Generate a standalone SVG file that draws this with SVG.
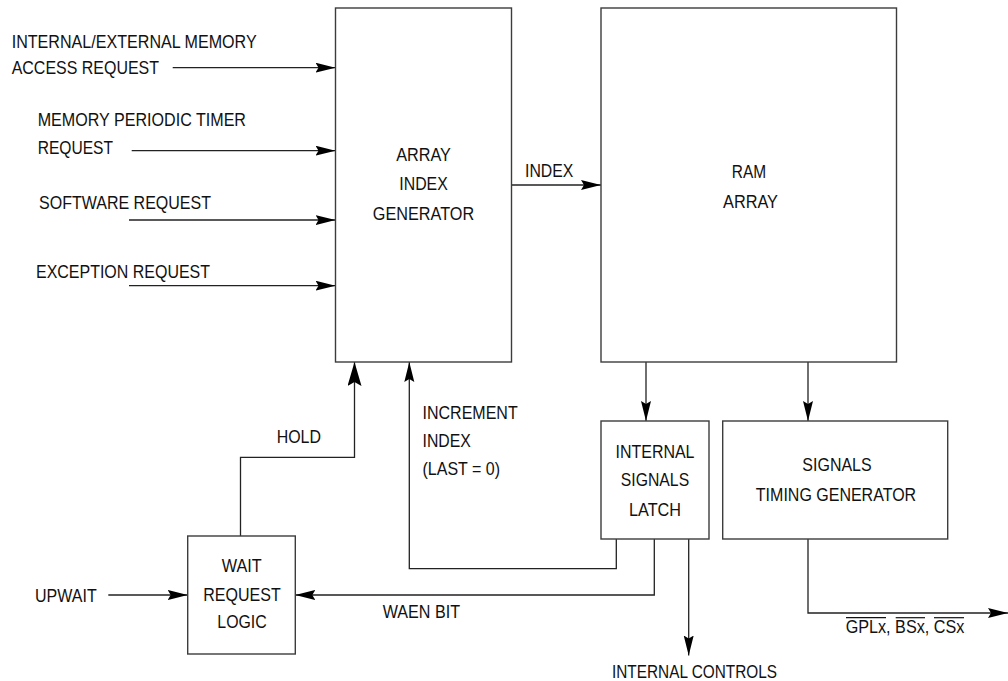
<svg xmlns="http://www.w3.org/2000/svg" width="1008" height="681" viewBox="0 0 1008 681">
<style>
  .box { fill: #ffffff; stroke: #3c3c3c; stroke-width: 1.4; }
  .wire { fill: none; stroke: #222222; stroke-width: 1.3; }
  .arr { marker-end: url(#ah); }
  .arrL { marker-end: url(#ahL); }
  text { font-family: "Liberation Sans", Arial, Helvetica, sans-serif; font-size: 18px; fill: #111111; }
  .c { text-anchor: middle; }
  .ovl { stroke: #111111; stroke-width: 1.2; }
</style>
<defs>
  <marker id="ah" markerUnits="userSpaceOnUse" markerWidth="22" markerHeight="12" refX="20" refY="5" orient="auto">
    <path d="M0,0 L20,5 L0,10 L3,5 z" fill="#000000"/>
  </marker>
  <marker id="ahL" markerUnits="userSpaceOnUse" markerWidth="26" markerHeight="16" refX="24" refY="7" orient="auto">
    <path d="M0,0 L24,7 L0,14 L4,7 z" fill="#000000"/>
  </marker>
</defs>
<rect width="1008" height="681" fill="#ffffff"/>

<g id="connectors">
  <path class="wire arr" d="M172.7,67.7 H335.5"/>
  <path class="wire arr" d="M131.7,150.7 H335.5"/>
  <path class="wire arr" d="M129,220 H335.5"/>
  <path class="wire arr" d="M129,285.7 H335.5"/>
  <path class="wire arr" d="M511.5,185 H601"/>
  <path class="wire arr" d="M646,362 V421"/>
  <path class="wire arr" d="M808,362 V421"/>
  <path class="wire arrL" d="M240.5,536 V457.3 H354.5 V362"/>
  <path class="wire arr" d="M616.3,539 V568.7 H409.3 V362"/>
  <path class="wire arr" d="M654.3,539 V595 H295.3"/>
  <path class="wire arr" d="M688.7,539 V655.5"/>
  <path class="wire arr" d="M808,539 V613 H1008"/>
  <path class="wire arr" d="M108.3,595 H187.7"/>
</g>

<g id="labels">
  <text x="11.7" y="48.3" textLength="245" lengthAdjust="spacingAndGlyphs">INTERNAL/EXTERNAL MEMORY</text>
  <text x="11.7" y="74" textLength="147.3" lengthAdjust="spacingAndGlyphs">ACCESS REQUEST</text>
  <text x="37.7" y="126" textLength="208.3" lengthAdjust="spacingAndGlyphs">MEMORY PERIODIC TIMER</text>
  <text x="37.7" y="154.3" textLength="75.3" lengthAdjust="spacingAndGlyphs">REQUEST</text>
  <text x="39" y="209" textLength="172" lengthAdjust="spacingAndGlyphs">SOFTWARE REQUEST</text>
  <text x="36" y="277.7" textLength="174" lengthAdjust="spacingAndGlyphs">EXCEPTION REQUEST</text>
  <text x="525" y="176.7" textLength="48.3" lengthAdjust="spacingAndGlyphs">INDEX</text>
  <text x="276.7" y="443.3" textLength="44.3" lengthAdjust="spacingAndGlyphs">HOLD</text>
  <text x="422.5" y="419" textLength="95.2" lengthAdjust="spacingAndGlyphs">INCREMENT</text>
  <text x="422.5" y="446.7" textLength="48.3" lengthAdjust="spacingAndGlyphs">INDEX</text>
  <text x="422.5" y="475" textLength="77.5" lengthAdjust="spacingAndGlyphs">(LAST = 0)</text>
  <text x="35" y="601.7" textLength="61.7" lengthAdjust="spacingAndGlyphs">UPWAIT</text>
  <text x="382.7" y="617.7" textLength="77.3" lengthAdjust="spacingAndGlyphs">WAEN BIT</text>
  <text x="612" y="678.3" textLength="165" lengthAdjust="spacingAndGlyphs">INTERNAL CONTROLS</text>
  <text x="845.7" y="632.7" textLength="118.6" lengthAdjust="spacingAndGlyphs">GPLx, BSx, CSx</text>
  <line class="ovl" x1="846" y1="617.7" x2="886" y2="617.7"/>
  <line class="ovl" x1="895.7" y1="617.7" x2="925" y2="617.7"/>
  <line class="ovl" x1="934" y1="617.7" x2="964" y2="617.7"/>
</g>

<g id="array-index-generator">
  <rect class="box" x="335.5" y="8" width="176" height="354"/>
  <text class="c" x="423.5" y="161" textLength="54.7" lengthAdjust="spacingAndGlyphs">ARRAY</text>
  <text class="c" x="423.5" y="190" textLength="48.4" lengthAdjust="spacingAndGlyphs">INDEX</text>
  <text class="c" x="423.5" y="220" textLength="101.3" lengthAdjust="spacingAndGlyphs">GENERATOR</text>
</g>

<g id="ram-array">
  <rect class="box" x="601" y="8" width="295.5" height="354"/>
  <text class="c" x="749" y="178.3" textLength="34.3" lengthAdjust="spacingAndGlyphs">RAM</text>
  <text class="c" x="750.5" y="208.3" textLength="55" lengthAdjust="spacingAndGlyphs">ARRAY</text>
</g>

<g id="internal-signals-latch">
  <rect class="box" x="601" y="421" width="108" height="118"/>
  <text class="c" x="655" y="457.7" textLength="79" lengthAdjust="spacingAndGlyphs">INTERNAL</text>
  <text class="c" x="655" y="486" textLength="68.3" lengthAdjust="spacingAndGlyphs">SIGNALS</text>
  <text class="c" x="655" y="515.7" textLength="52" lengthAdjust="spacingAndGlyphs">LATCH</text>
</g>

<g id="signals-timing-generator">
  <rect class="box" x="722.7" y="421" width="225" height="118"/>
  <text class="c" x="837" y="471" textLength="69.3" lengthAdjust="spacingAndGlyphs">SIGNALS</text>
  <text class="c" x="836" y="500.7" textLength="160.3" lengthAdjust="spacingAndGlyphs">TIMING GENERATOR</text>
</g>

<g id="wait-request-logic">
  <rect class="box" x="187.7" y="536" width="107.6" height="118"/>
  <text class="c" x="241.7" y="571.7" textLength="40" lengthAdjust="spacingAndGlyphs">WAIT</text>
  <text class="c" x="242" y="601" textLength="77.4" lengthAdjust="spacingAndGlyphs">REQUEST</text>
  <text class="c" x="242" y="628.3" textLength="49.4" lengthAdjust="spacingAndGlyphs">LOGIC</text>
</g>
</svg>
